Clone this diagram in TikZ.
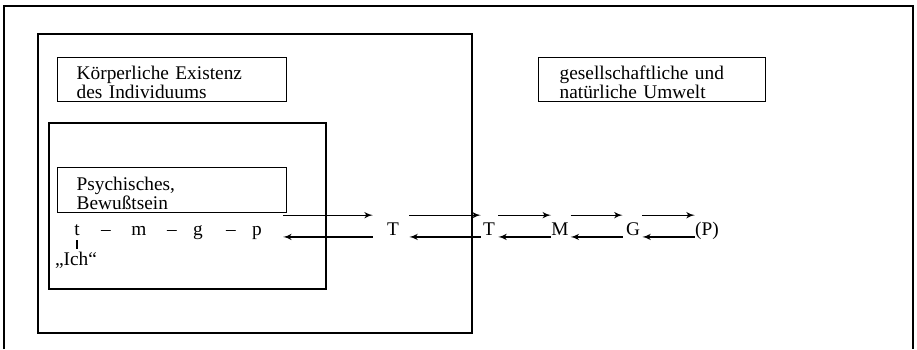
\documentclass[tikz,border=0pt]{standalone}
\usepackage{fontspec}
\setmainfont{Liberation Serif}
\usetikzlibrary{arrows}

\begin{document}
\begin{tikzpicture}[x=0.02cm,y=-0.02cm]
\tikzset{namebox/.style = {draw, line width=0.8pt, anchor=north west,
		text width=3.82cm, inner xsep=0.38cm, inner ysep=0pt,
		minimum height=0.88cm, align=left,
		font=\fontsize{11}{10.8}\selectfont}}
\tikzset{area/.style = {draw, line width=0.8pt}}
\tikzset{sym/.style = {inner sep=0pt, anchor=base, font=\fontsize{11}{13}\selectfont}}
\tikzset{edge/.style = {->,> = latex', line width=0.7pt}}
\tikzset{backedge/.style = {<-,> = latex', line width=0.7pt}}
\useasboundingbox (0,0) rectangle (917,349);
% frames
\draw[line width=0.9pt] (4,349) -- (4,6) -- (913,6) -- (913,349);
\draw[area] (38,34) rectangle (472,333);
\draw[area] (49,123) rectangle (326,289);
% boxes
\node[namebox] (body) at (57,57) {\rule{0pt}{11pt}Körperliche Existenz\\des Individuums};
\node[namebox, minimum height=0.9cm] (psych) at (57,167) {\rule{0pt}{11pt}Psychisches,\\Bewußtsein};
\node[namebox, text width=3.70cm, inner xsep=0.42cm] (env) at (538,57) {\rule{0pt}{11pt}gesellschaftliche und\\natürliche Umwelt};
% symbols
\node[sym] (t) at (77,235) {t};
\node[sym] (d1) at (106,235) {--};
\node[sym] (m) at (139,235) {m};
\node[sym] (d2) at (172,235) {--};
\node[sym] (g) at (198,235) {g};
\node[sym] (d3) at (231,235) {--};
\node[sym] (p) at (257,235) {p};
\node[sym] (ich) at (76,265) {„Ich“};
\node[sym] (T1) at (393,235) {T};
\node[sym] (T2) at (489,235) {T};
\node[sym] (M) at (560,235) {M};
\node[sym] (G) at (633,235) {G};
\node[sym] (P) at (707,235) {(P)};
%edges
\draw[line width=0.6pt, shorten <=2.8pt, shorten >=1.5pt] (t.south) -- (t.south |- ich.north);
\draw[edge, shorten <=11.9pt, shorten >=7.9pt] ([yshift=11.3pt]p.base east) -- ([yshift=11.3pt]T1.base west);
\draw[backedge, shorten <=11.9pt, shorten >=7.9pt] ([yshift=-1.1pt]p.base east) -- ([yshift=-1.1pt]T1.base west);
\draw[edge, shorten <=5.7pt, shorten >=1.1pt] ([yshift=11.3pt]T1.base east) -- ([yshift=11.3pt]T2.base west);
\draw[backedge, shorten <=5.7pt, shorten >=1.1pt] ([yshift=-1.1pt]T1.base east) -- ([yshift=-1.1pt]T2.base west);
\draw[edge, shorten <=1.7pt] ([yshift=11.3pt]T2.base east) -- ([yshift=11.3pt]M.base west);
\draw[backedge, shorten <=1.7pt] ([yshift=-1.1pt]T2.base east) -- ([yshift=-1.1pt]M.base west);
\draw[edge, shorten <=0.9pt, shorten >=1.7pt] ([yshift=11.3pt]M.base east) -- ([yshift=11.3pt]G.base west);
\draw[backedge, shorten <=0.9pt, shorten >=1.7pt] ([yshift=-1.1pt]M.base east) -- ([yshift=-1.1pt]G.base west);
\draw[edge, shorten <=1.1pt] ([yshift=11.3pt]G.base east) -- ([yshift=11.3pt]P.base west);
\draw[backedge, shorten <=1.1pt] ([yshift=-1.1pt]G.base east) -- ([yshift=-1.1pt]P.base west);
\end{tikzpicture}
\end{document}
